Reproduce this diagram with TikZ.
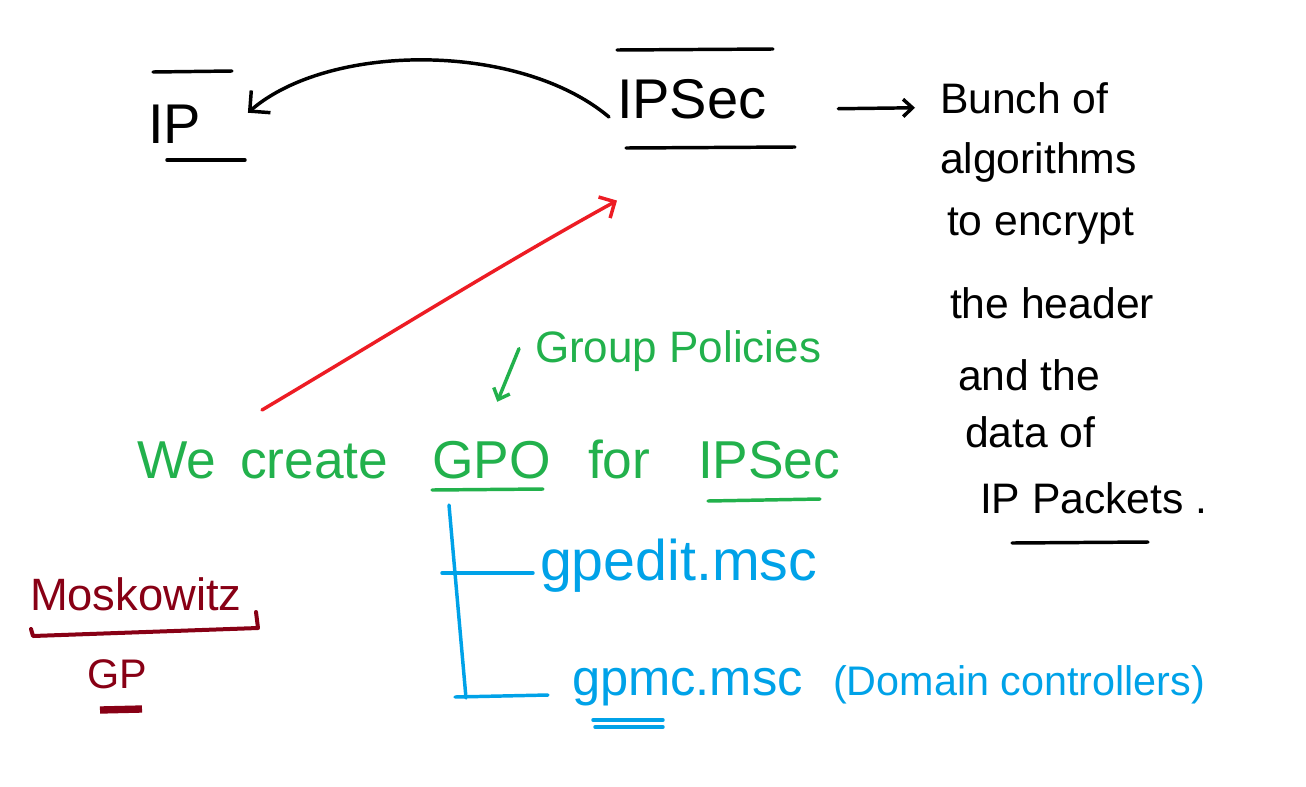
\documentclass[tikz,border=0pt]{standalone}
\usepackage{fontspec}
\setmainfont{Liberation Sans}
\usetikzlibrary{arrows.meta,calc}
\definecolor{pgreen}{RGB}{34,177,76}
\definecolor{pblue}{RGB}{0,162,232}
\definecolor{pred}{RGB}{237,28,36}
\definecolor{pmaroon}{RGB}{136,0,21}
\tikzset{
  txt/.style={anchor=base west, inner sep=0pt, outer sep=0pt},
  big/.style={txt, font=\fontsize{42}{50}\selectfont},
  note/.style={txt, font=\fontsize{32}{38}\selectfont},
  gtxt/.style={txt, text=pgreen, font=\fontsize{40}{48}\selectfont},
  pen/.style={line width=2.6pt, line cap=round, line join=round},
  barbbig/.style={-{Straight Barb[length=11pt,width=22pt]}},
  barbmid/.style={-{Straight Barb[length=9pt,width=18pt]}},
  barbsmall/.style={-{Straight Barb[length=7pt,width=13pt]}},
}
\begin{document}
\begin{tikzpicture}[x=0.75pt,y=-0.75pt]
\fill[white] (0,0) rectangle (1306,786);
\useasboundingbox (0,0) rectangle (1306,786);

% IP and IPSec
\node[big] (ip) at (148,143) {IP};
\node[big] (ipsec) at (617,118) {IPSec};
\draw[pen] (153,72) -- (232,71);
\draw[pen] (167,160) -- (245,160);
\draw[pen] (617,50) -- (773,49);
\draw[pen] (626,148) -- (795,147);
\draw[pen,barbbig] ($(ipsec.base west)+(-8,-1)$) .. controls (520,42) and (330,42) .. ($(ip.east)+(47,-11)$);

% Black note
\node[note] (l1) at (940,113) {Bunch of};
\node[note] (l2) at (940,173) {algorithms};
\node[note] (l3) at (947,235) {to encrypt};
\node[note] (l4) at (950,318) {the header};
\node[note] (l5) at (958,390) {and the};
\node[note] (l6) at (965,447) {data of};
\node[note] (l7) at (980,513) {IP Packets .};
\draw[pen] (1012,543) -- (1148,542);
\draw[pen,barbsmall] ($(ipsec.east)+(72,10)$) -- ($(l1.west)+(-25,10)$);

% Green
\node[txt, text=pgreen, font=\fontsize{33}{40}\selectfont] (gp) at (535,362) {Group Policies};
\node[gtxt] (we) at (137,478) {We};
\node[gtxt] (create) at (240,478) {create};
\node[gtxt] (gpo) at (432,478) {GPO};
\node[gtxt] (for) at (588,478) {for};
\node[gtxt] (ipsecg) at (698,478) {IPSec};
\draw[pen,pgreen] (432,490) -- (543,489);
\draw[pen,pgreen] (708,501) -- (820,499);
\draw[pen,pgreen,barbsmall] ($(gp.west)+(-16,-2)$) -- ($(gpo.north)+(6,-39)$);

% Red arrow
\coordinate (rs) at (262,410);
\draw[pen,pred,barbmid] (rs) .. controls (385,337) and (500,265) .. ($(ipsec.south west)+(0,82)$);

% Blue
\node[txt, text=pblue, font=\fontsize{43}{50}\selectfont] (gpedit) at (540,580) {gpedit.msc};
\node[txt, text=pblue, font=\fontsize{38}{46}\selectfont] (gpmc) at (572,695) {gpmc.msc};
\node[txt, text=pblue, font=\fontsize{31}{38}\selectfont] (dc) at (833,695) {(Domain controllers)};
\coordinate (ttop) at (449,505);
\coordinate (tbot) at (466,698);
\draw[pen,pblue] (ttop) -- (tbot);
\draw[pen,pblue] (442,573) -- ($(gpedit.base west)+(-7,-7)$);
\draw[pen,pblue] (455,697) -- ($(gpmc.base west)+(-24,0)$);
\draw[pen,pblue] (593,720) -- (663,720);
\draw[pen,pblue] (595,727) -- (663,727);

% Maroon
\node[txt, text=pmaroon, font=\fontsize{34}{40}\selectfont] (mosk) at (30,610) {Moskowitz};
\node[txt, text=pmaroon, font=\fontsize{31}{36}\selectfont] (gpm) at (87,688) {GP};
\draw[pen,pmaroon,line width=3pt] (31,629) -- (33,636) -- (258,628) -- (256,612);
\draw[pmaroon,line width=5.5pt] (100,710) -- (142,709);
\end{tikzpicture}
\end{document}
